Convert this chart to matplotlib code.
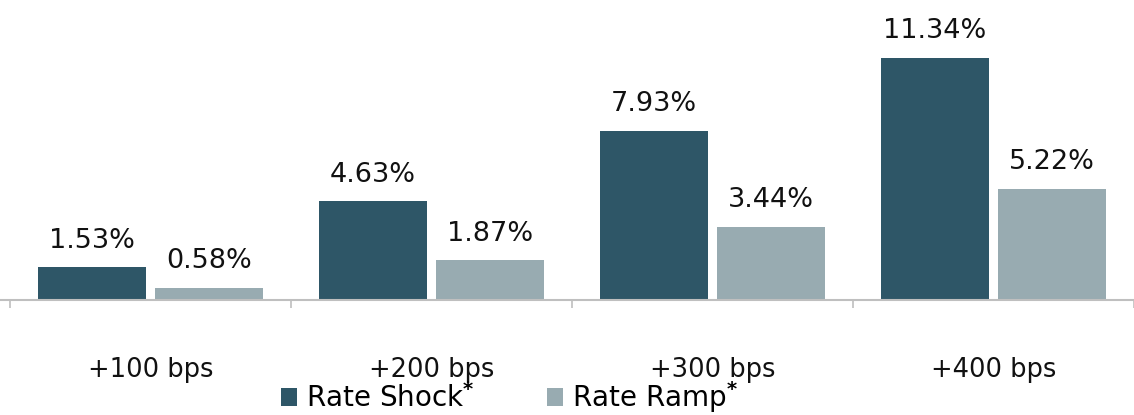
import matplotlib
import matplotlib.pyplot as plt
import numpy as np

matplotlib.use('Agg')

# data
categories = ['+100 bps', '+200 bps', '+300 bps', '+400 bps']
rate_shock = [1.53, 4.63, 7.93, 11.34]
rate_ramp = [0.58, 1.87, 3.44, 5.22]
series_names = ['Rate Shock$^{\\mathbf{*}}$', 'Rate Ramp$^{\\mathbf{*}}$']

dark = '#2e5667'
light = '#98abb1'
axis_grey = '#bfbfbf'

fig = plt.figure(figsize=(11.34, 4.15), dpi=100)
ax = fig.add_axes([0, 0.2771, 1, 0.7229])

x = np.arange(len(categories))
w = 0.385
off = 0.2085
b1 = ax.bar(x - off, rate_shock, w, color=dark, label=series_names[0])
b2 = ax.bar(x + off, rate_ramp, w, color=light, label=series_names[1])

for bars, vals in ((b1, rate_shock), (b2, rate_ramp)):
    for rect, v in zip(bars, vals):
        ax.annotate('%.2f%%' % v, (rect.get_x() + rect.get_width() / 2, v),
                    xytext=(0, 14), textcoords='offset points',
                    ha='center', va='baseline', fontsize=19.5, color='#111111')

# category labels under the axis
for xi, c in zip(x, categories):
    ax.text(xi, -0.255, c, transform=ax.get_xaxis_transform(),
            ha='center', va='baseline', fontsize=18.5, color='#111111')

px = 283.4
ax.set_xlim(-0.5 - 10 / px, -0.5 + 1124 / px)
ax.set_ylim(0, 14.05)

for s in ('top', 'right', 'left'):
    ax.spines[s].set_visible(False)
ax.spines['bottom'].set_color(axis_grey)
ax.spines['bottom'].set_linewidth(1.5)
ax.set_yticks([])
ax.set_xticks([])
ax.set_xticks(np.arange(-0.5, len(categories) + 0.5, 1), minor=True)
ax.tick_params(axis='x', which='minor', length=6, width=1.2,
               color=axis_grey, labelbottom=False)

fig.legend(handles=[b1, b2], labels=series_names, loc='lower center',
           bbox_to_anchor=(0.449, 0.0), ncol=2, frameon=False,
           fontsize=20, handlelength=0.6, handleheight=0.6,
           handletextpad=0.3, columnspacing=2.6, borderpad=0,
           borderaxespad=0)

fig.savefig('out.png', dpi=100)
plt.close()
